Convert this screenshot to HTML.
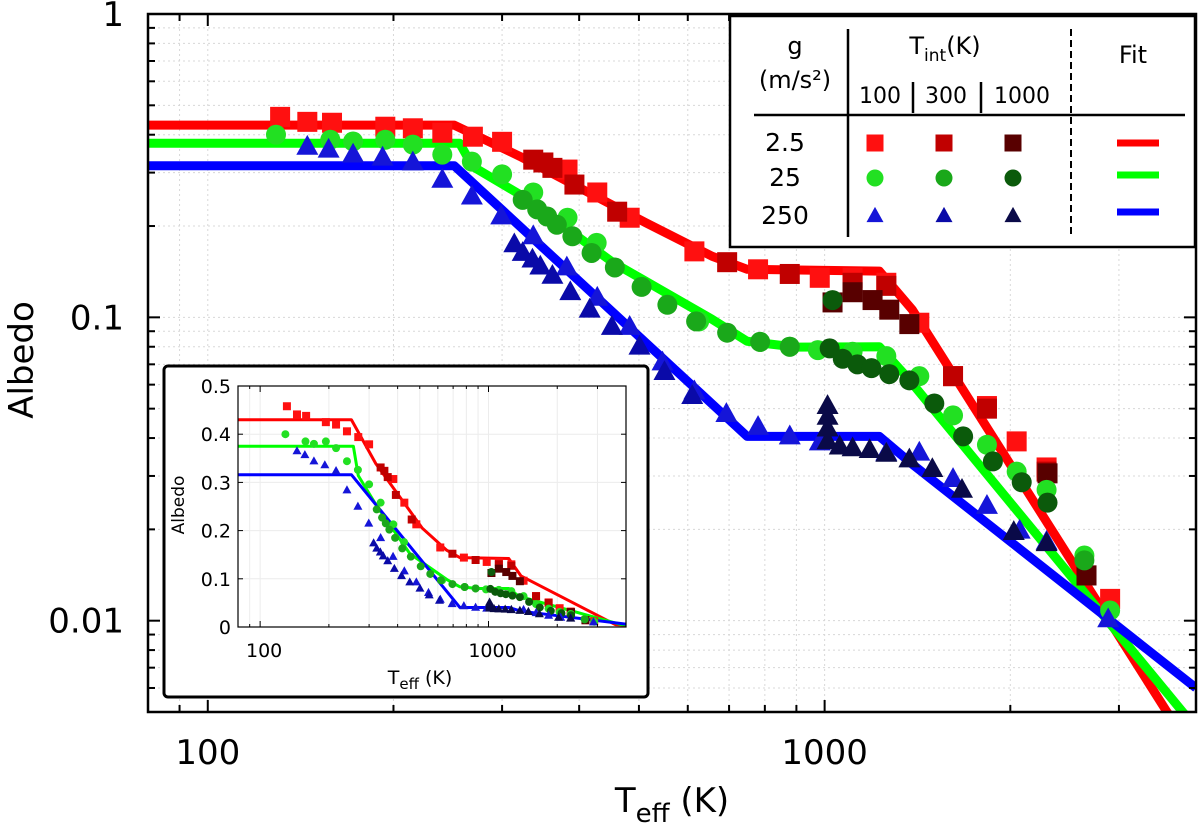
<!DOCTYPE html>
<html><head><meta charset="utf-8"><style>
html,body{margin:0;padding:0;background:#fff}
svg{display:block;font-family:"DejaVu Sans","Liberation Sans",sans-serif}
</style></head><body>
<svg id="chart" width="1200" height="836" viewBox="0 0 1200 836" xmlns="http://www.w3.org/2000/svg">
<defs>
<clipPath id="mainClip"><rect x="148" y="14" width="1048" height="698"/></clipPath>
<clipPath id="insetClip"><rect x="238" y="386" width="388" height="241"/></clipPath>
</defs>
<g id="mainGrid"></g>
<g id="mainData" clip-path="url(#mainClip)"></g>
<rect x="148" y="14" width="1048" height="698" fill="none" stroke="#000" stroke-width="2.5"/>
<g id="mainAxes"></g>
<text x="22" y="360" font-size="34" text-anchor="middle" transform="rotate(-90 22 360)" dominant-baseline="central">Albedo</text>
<text x="672" y="812" font-size="34" text-anchor="middle">T<tspan font-size="26" dy="10">eff</tspan><tspan dy="-10"> (K)</tspan></text>

<rect x="164" y="366" width="484" height="331" rx="4" fill="#fff" stroke="#000" stroke-width="3"/>
<g id="insetGrid"></g>
<g id="insetData" clip-path="url(#insetClip)"></g>
<rect x="238" y="386" width="388" height="241" fill="none" stroke="#000" stroke-width="1.2"/>
<g id="insetAxes"></g>
<text x="179" y="505" font-size="17" text-anchor="middle" transform="rotate(-90 179 505)" dominant-baseline="central">Albedo</text>
<text x="420" y="684" font-size="19" text-anchor="middle">T<tspan font-size="15" dy="5">eff</tspan><tspan dy="-5"> (K)</tspan></text>

<g>
<rect x="730" y="16" width="465" height="231" fill="#fff" stroke="#000" stroke-width="2.5"/>
<line x1="848" y1="29" x2="848" y2="237" stroke="#000" stroke-width="2.5"/>
<line x1="1071" y1="29" x2="1071" y2="237" stroke="#000" stroke-width="2" stroke-dasharray="7,4"/>
<line x1="754" y1="115" x2="1185" y2="115" stroke="#000" stroke-width="2.5"/>
<line x1="913" y1="82" x2="913" y2="113" stroke="#000" stroke-width="2.5"/>
<line x1="981" y1="82" x2="981" y2="113" stroke="#000" stroke-width="2.5"/>
<text x="795" y="54" font-size="24" text-anchor="middle">g</text>
<text x="795" y="88" font-size="24" text-anchor="middle">(m/s²)</text>
<text x="945" y="54" font-size="24" text-anchor="middle">T<tspan font-size="17" dy="7">int</tspan><tspan dy="-7">(K)</tspan></text>
<text x="880" y="103" font-size="22" text-anchor="middle">100</text>
<text x="946" y="103" font-size="22" text-anchor="middle">300</text>
<text x="1022" y="103" font-size="22" text-anchor="middle">1000</text>
<text x="1133" y="63" font-size="24" text-anchor="middle">Fit</text>
<text x="785" y="151" font-size="25" text-anchor="middle">2.5</text>
<text x="785" y="186" font-size="25" text-anchor="middle">25</text>
<text x="785" y="224" font-size="25" text-anchor="middle">250</text>
<g id="legendMarks"></g>
<line x1="1117" y1="143" x2="1159" y2="143" stroke="#ff0000" stroke-width="7"/>
<line x1="1117" y1="175" x2="1159" y2="175" stroke="#00ff00" stroke-width="7"/>
<line x1="1117" y1="212" x2="1159" y2="212" stroke="#0000ff" stroke-width="7"/>
</g>
</svg>
<script>
// ---- data (Teff in K, albedo) ----
const redFitT=[80,251,321,513,657,749,1227,1387,3590,5000];
const redFitA=[0.43,0.43,0.339,0.205,0.159,0.144,0.142,0.106,0.005,0.0019];
const greenFitT=[80,256,269,325,453,657,749,896,1227,1356,3807,5000];
const greenFitA=[0.375,0.375,0.314,0.25,0.152,0.0985,0.0834,0.0798,0.08,0.064,0.005,0.0027];
const blueFitT=[80,251,749,1227,1387,4000];
const blueFitA=[0.316,0.316,0.0405,0.0405,0.0328,0.006];

const r100T=[131,145,159,194,215,240,269,300,383,428,483,615,780,982,1110,1259,1424,1615,1833,2048,2290,2903];
const r100A=[0.458,0.441,0.438,0.425,0.42,0.406,0.394,0.379,0.307,0.258,0.213,0.165,0.144,0.135,0.135,0.13,0.096,0.064,0.051,0.039,0.032,0.0118];
const r300T=[337,350,362,393,461,695,878,1110,1259,1615,1833,2290,2658];
const r300A=[0.331,0.324,0.311,0.274,0.223,0.152,0.139,0.13,0.127,0.064,0.05,0.031,0.0141];
const r1000T=[1030,1110,1196,1273,1372,2298,2658];
const r1000A=[0.112,0.121,0.114,0.106,0.095,0.0306,0.0141];

const g100T=[129,158,172,194,215,240,268,300,337,383,427,626,786,878,975,1110,1259,1424,1615,1833,2048,2290,2637,2903];
const g100A=[0.4,0.385,0.38,0.385,0.371,0.344,0.326,0.296,0.258,0.213,0.176,0.097,0.083,0.08,0.078,0.077,0.0745,0.064,0.0475,0.038,0.031,0.027,0.0164,0.0108];
const g300T=[324,342,355,368,390,419,457,505,556,619,695,786,878,2637];
const g300A=[0.244,0.227,0.215,0.202,0.185,0.163,0.146,0.126,0.11,0.097,0.089,0.083,0.08,0.0158];
const g1000T=[1030,1019,1070,1130,1191,1273,1372,1506,1677,1874,2087,2298];
const g1000A=[0.114,0.079,0.073,0.07,0.068,0.065,0.062,0.052,0.0405,0.0335,0.0286,0.0245];

const b100T=[145,157,172,192,215,240,268,299,337,382,428,483,546,615,693,780,878,982,1259,1424,1615,1833,2071,2290,2882];
const b100A=[0.365,0.357,0.344,0.336,0.324,0.284,0.25,0.215,0.185,0.146,0.116,0.093,0.071,0.057,0.048,0.0435,0.0405,0.0387,0.0358,0.0358,0.0293,0.0239,0.0198,0.0182,0.0101];
const b300T=[314,324,336,346,362,387,416,452,501,550,610];
const b300A=[0.174,0.163,0.155,0.147,0.137,0.121,0.106,0.093,0.08,0.066,0.055];
const b1000T=[1011,1011,1011,1011,1058,1110,1183,1259,1372,1495,1670,2026,2290];
const b1000A=[0.051,0.047,0.043,0.039,0.0375,0.037,0.0365,0.0355,0.034,0.0316,0.027,0.0196,0.018];

const mainYTicks=[1,0.1,0.01];
const mainYLabels=["1","0.1","0.01"];
const mainXTicks=[100,1000];
const mainXLabels=["100","1000"];
const insetYTicks=[0,0.1,0.2,0.3,0.4,0.5];
const insetYLabels=["0","0.1","0.2","0.3","0.4","0.5"];

const NS="http://www.w3.org/2000/svg";
const M={x0:148,x1:1196,y0:712,y1:14,tmin:80,tmax:4000,amin:0.005,amax:1};
const I={x0:238,x1:626,y0:627,y1:386,tmin:80,tmax:4000,amin:0,amax:0.5};
function mx(t){return M.x0+(Math.log10(t)-Math.log10(M.tmin))/(Math.log10(M.tmax)-Math.log10(M.tmin))*(M.x1-M.x0);}
function my(a){return M.y0-(Math.log10(a)-Math.log10(M.amin))/(Math.log10(M.amax)-Math.log10(M.amin))*(M.y0-M.y1);}
function ix(t){return I.x0+(Math.log10(t)-Math.log10(I.tmin))/(Math.log10(I.tmax)-Math.log10(I.tmin))*(I.x1-I.x0);}
function iy(a){return I.y0-(a-I.amin)/(I.amax-I.amin)*(I.y0-I.y1);}
function mk(tag,attrs,parent){const e=document.createElementNS(NS,tag);for(const k in attrs)e.setAttribute(k,attrs[k]);parent.appendChild(e);return e;}

const mainGrid=document.getElementById('mainGrid');
const mainAxes=document.getElementById('mainAxes');
const mainData=document.getElementById('mainData');
const insetGrid=document.getElementById('insetGrid');
const insetAxes=document.getElementById('insetAxes');
const insetData=document.getElementById('insetData');

for(let d=1;d<=3;d++){for(let k=1;k<10;k++){const t=k*Math.pow(10,d);if(t<M.tmin||t>M.tmax)continue;const x=mx(t);
 const g=mk('line',{x1:x,y1:M.y1,x2:x,y2:M.y0,stroke:'#d8d8d8','stroke-width':1,'stroke-dasharray':'2,3'},mainGrid);
 
 const L=k===1?12:7;
 const a=mk('line',{x1:x,y1:M.y0,x2:x,y2:M.y0-L,stroke:'#000','stroke-width':2},mainAxes);
 
 const b=mk('line',{x1:x,y1:M.y1,x2:x,y2:M.y1+L,stroke:'#000','stroke-width':2},mainAxes);
 }}
for(let d=-3;d<=0;d++){for(let k=1;k<10;k++){const a=k*Math.pow(10,d);if(a<M.amin-1e-9||a>M.amax+1e-9)continue;const y=my(a);
 const g=mk('line',{x1:M.x0,y1:y,x2:M.x1,y2:y,stroke:'#d8d8d8','stroke-width':1,'stroke-dasharray':'2,3'},mainGrid);
 
 const L=k===1?12:7;
 const t1=mk('line',{x1:M.x0,y1:y,x2:M.x0+L,y2:y,stroke:'#000','stroke-width':2},mainAxes);
 
 const t2=mk('line',{x1:M.x1,y1:y,x2:M.x1-L,y2:y,stroke:'#000','stroke-width':2},mainAxes);
 }}
mainYTicks.forEach((v,i)=>{const t=mk('text',{x:124,y:my(v)+12,'font-size':34,'text-anchor':'end'},mainAxes);t.textContent=mainYLabels[i];
 });
mainXTicks.forEach((v,i)=>{const t=mk('text',{x:mx(v),y:764,'font-size':34,'text-anchor':'middle'},mainAxes);t.textContent=mainXLabels[i];
 });

for(let d=1;d<=3;d++){for(let k=1;k<10;k++){const t=k*Math.pow(10,d);if(t<I.tmin||t>I.tmax)continue;const x=ix(t);
 const g=mk('line',{x1:x,y1:I.y1,x2:x,y2:I.y0,stroke:'#ececec','stroke-width':1},insetGrid);
 
 const L=k===1?6:3;
 const a=mk('line',{x1:x,y1:I.y0,x2:x,y2:I.y0-L,stroke:'#000','stroke-width':1},insetAxes);
 
 const b=mk('line',{x1:x,y1:I.y1,x2:x,y2:I.y1+L,stroke:'#000','stroke-width':1},insetAxes);
 }}
insetYTicks.forEach((v,i)=>{const y=iy(v);
 const g=mk('line',{x1:I.x0,y1:y,x2:I.x1,y2:y,stroke:'#ececec','stroke-width':1},insetGrid);
 
 const a=mk('line',{x1:I.x0,y1:y,x2:I.x0+5,y2:y,stroke:'#000','stroke-width':1},insetAxes);
 
 const b=mk('line',{x1:I.x1,y1:y,x2:I.x1-5,y2:y,stroke:'#000','stroke-width':1},insetAxes);
 
 const t=mk('text',{x:231,y:y+7,'font-size':19,'text-anchor':'end'},insetAxes);t.textContent=insetYLabels[i];
 });
mainXTicks.forEach((v,i)=>{const t=mk('text',{x:ix(v)+4,y:657,'font-size':19,'text-anchor':'middle'},insetAxes);t.textContent=mainXLabels[i];
 });

function marker(shape,x,y,s,color,parent,name){
 let e;
 if(shape==='sq'){e=mk('rect',{x:x-s/2,y:y-s/2,width:s,height:s,fill:color},parent);}
 else if(shape==='ci'){e=mk('circle',{cx:x,cy:y,r:s/2,fill:color},parent);}
 else {const h=s*0.9;e=mk('polygon',{points:`${x},${y-h*0.6} ${x-s/2},${y+h*0.4} ${x+s/2},${y+h*0.4}`,fill:color},parent);}
 
 
}
const series=[
 {T:r100T,A:r100A,shape:'sq',color:'#ff1010',name:'point-g2.5-tint100'},
 {T:r300T,A:r300A,shape:'sq',color:'#c00000',name:'point-g2.5-tint300'},
 {T:r1000T,A:r1000A,shape:'sq',color:'#580000',name:'point-g2.5-tint1000'},
 {T:g100T,A:g100A,shape:'ci',color:'#22e022',name:'point-g25-tint100'},
 {T:g300T,A:g300A,shape:'ci',color:'#1aa81a',name:'point-g25-tint300'},
 {T:g1000T,A:g1000A,shape:'ci',color:'#0b5a0b',name:'point-g25-tint1000'},
 {T:b100T,A:b100A,shape:'tr',color:'#1515d8',name:'point-g250-tint100'},
 {T:b300T,A:b300A,shape:'tr',color:'#0a0aa8',name:'point-g250-tint300'},
 {T:b1000T,A:b1000A,shape:'tr',color:'#0a0a48',name:'point-g250-tint1000'}
];
const fits=[
 {T:redFitT,A:redFitA,color:'#ff0000',name:'fit-line-g2.5'},
 {T:greenFitT,A:greenFitA,color:'#00ff00',name:'fit-line-g25'},
 {T:blueFitT,A:blueFitA,color:'#0000ff',name:'fit-line-g250'}
];
fits.forEach(f=>{
 const p=mk('polyline',{points:f.T.map((t,i)=>mx(t)+','+my(f.A[i])).join(' '),fill:'none',stroke:f.color,'stroke-width':9,'stroke-linejoin':'round'},mainData);
 
 
 const q=mk('polyline',{points:f.T.map((t,i)=>ix(t)+','+iy(f.A[i])).join(' '),fill:'none',stroke:f.color,'stroke-width':3,'stroke-linejoin':'round'},insetData);
 
 
});
series.forEach(s=>{
 s.T.forEach((t,i)=>{
  marker(s.shape,mx(t),my(s.A[i]),s.shape==='tr'?22:20,s.color,mainData,s.name);
  marker(s.shape,ix(t),iy(s.A[i]),s.shape==='tr'?9:8,s.color,insetData,'inset-'+s.name);
 });
});
const lg=document.getElementById('legendMarks');
const lx=[875,944,1013], ly=[143,178,216];
series.forEach((s,i)=>{marker(s.shape,lx[i%3],ly[Math.floor(i/3)],17,s.color,lg,'legend-'+s.name);});
</script>
</body></html>
